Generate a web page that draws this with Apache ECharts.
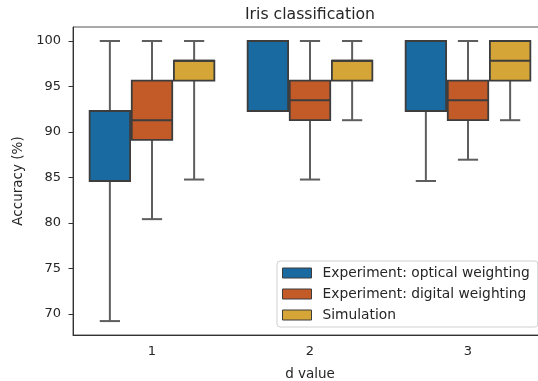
<!DOCTYPE html>
<html>
<head>
<meta charset="utf-8">
<script src="https://cdn.jsdelivr.net/npm/echarts@6/dist/echarts.min.js"></script>
<style>
  html, body { margin: 0; padding: 0; background: #fff; }
  #chart { width: 538px; height: 381px; }
</style>
</head>
<body>
<div id="chart"></div>
<script>
// d values on the x axis
const dValues = ['1', '2', '3'];

// Each row: [lower whisker, Q1, median, Q3, upper whisker] in accuracy (%)
const opticalWeighting = [
  [69.23, 84.62, 92.31, 92.31, 100],
  [92.31, 92.31, 100, 100, 100],
  [84.62, 92.31, 100, 100, 100]
];
const digitalWeighting = [
  [80.43, 89.13, 91.30, 95.65, 100],
  [84.78, 91.30, 93.48, 95.65, 100],
  [86.96, 91.30, 93.48, 95.65, 100]
];
const simulation = [
  [84.78, 95.65, 97.83, 97.83, 100],
  [91.30, 95.65, 97.83, 97.83, 100],
  [91.30, 95.65, 97.83, 100, 100]
];

const seriesNames = [
  'Experiment: optical weighting',
  'Experiment: digital weighting',
  'Simulation'
];
const seriesColors = ['#1a6aa2', '#c35b28', '#d5a537'];
const yTicks = [70, 75, 80, 85, 90, 95, 100];

const FONT = 'DejaVu Sans';
const EDGE = '#3d3d3d';
const WHISKER = '#5e5e5e';

function makeRender(slot) {
  return function (params, api) {
    const cat = api.value(0);
    const band = api.size([1, 0])[0];
    const hueW = band * 0.8 / 3;
    const boxW = hueW * 0.96;
    const cx = api.coord([cat, 0])[0] + (slot - 1) * hueW;
    const y = (i) => api.coord([cat, api.value(i)])[1];
    const yLo = y(1), yQ1 = y(2), yMed = y(3), yQ3 = y(4), yHi = y(5);
    const half = boxW / 2, capHalf = boxW / 4;
    const line = (x1, y1, x2, y2, color, w) => ({
      type: 'line',
      shape: { x1, y1, x2, y2 },
      style: { stroke: color, lineWidth: w }
    });
    return {
      type: 'group',
      children: [
        line(cx, yQ1, cx, yLo, WHISKER, 2),
        line(cx, yQ3, cx, yHi, WHISKER, 2),
        line(cx - capHalf, yLo, cx + capHalf, yLo, WHISKER, 2),
        line(cx - capHalf, yHi, cx + capHalf, yHi, WHISKER, 2),
        {
          type: 'rect',
          shape: { x: cx - half, y: yQ3, width: boxW, height: yQ1 - yQ3 },
          style: { fill: seriesColors[slot], stroke: EDGE, lineWidth: 1.8 }
        },
        line(cx - half, yMed, cx + half, yMed, EDGE, 2)
      ]
    };
  };
}

const seriesData = [opticalWeighting, digitalWeighting, simulation];

const chart = echarts.init(document.getElementById('chart'), null, { renderer: 'canvas' });
chart.setOption({
  animation: false,
  backgroundColor: '#fff',
  title: {
    text: 'Iris classification',
    left: 305,
    top: 2,
    textAlign: 'center',
    textStyle: { fontFamily: FONT, fontSize: 15.7, fontWeight: 'normal', color: '#262626' }
  },
  legend: {
    orient: 'vertical',
    left: 277,
    top: 261,
    padding: [4, 8, 4, 5],
    itemWidth: 29,
    itemHeight: 10,
    itemGap: 5,
    icon: 'rect',
    backgroundColor: 'rgba(255,255,255,0.85)',
    borderColor: '#d0d0d0',
    borderWidth: 1,
    borderRadius: 3,
    itemStyle: { borderColor: EDGE, borderWidth: 1 },
    textStyle: { fontFamily: FONT, fontSize: 13.8, lineHeight: 16, color: '#262626', padding: [0, 0, 0, 6] },
    data: seriesNames
  },
  grid: {
    left: 73, top: 27, width: 474, height: 308,
    outerBoundsMode: 'none',
    containLabel: false,
    show: true, borderColor: '#555', borderWidth: 1, backgroundColor: 'transparent'
  },
  xAxis: {
    type: 'category',
    data: dValues,
    boundaryGap: true,
    name: 'd value',
    nameLocation: 'middle',
    nameGap: 32,
    nameTextStyle: { fontFamily: FONT, fontSize: 13.5, color: '#262626' },
    axisLine: { lineStyle: { color: '#333', width: 1 } },
    axisTick: { alignWithLabel: true, length: 4.5, lineStyle: { color: '#333' } },
    axisLabel: { fontFamily: FONT, fontSize: 13, color: '#262626', margin: 10 },
    splitLine: { show: false }
  },
  yAxis: {
    type: 'value',
    min: 67.7,
    max: 101.54,
    name: 'Accuracy (%)',
    nameLocation: 'middle',
    nameGap: 42,
    nameTextStyle: { fontFamily: FONT, fontSize: 13.5, color: '#262626' },
    axisLine: { show: true, lineStyle: { color: '#333', width: 1 } },
    axisTick: { show: true, length: 4.5, customValues: yTicks, lineStyle: { color: '#333' } },
    axisLabel: { fontFamily: FONT, fontSize: 13, color: '#262626', margin: 12, customValues: yTicks },
    splitLine: { show: false }
  },
  series: seriesData.map((rows, slot) => ({
    type: 'custom',
    name: seriesNames[slot],
    itemStyle: { color: seriesColors[slot] },
    renderItem: makeRender(slot),
    encode: { x: 0, y: [1, 2, 3, 4, 5] },
    data: rows.map((r, i) => [i].concat(r)),
    clip: false
  }))
});
</script>
</body>
</html>
